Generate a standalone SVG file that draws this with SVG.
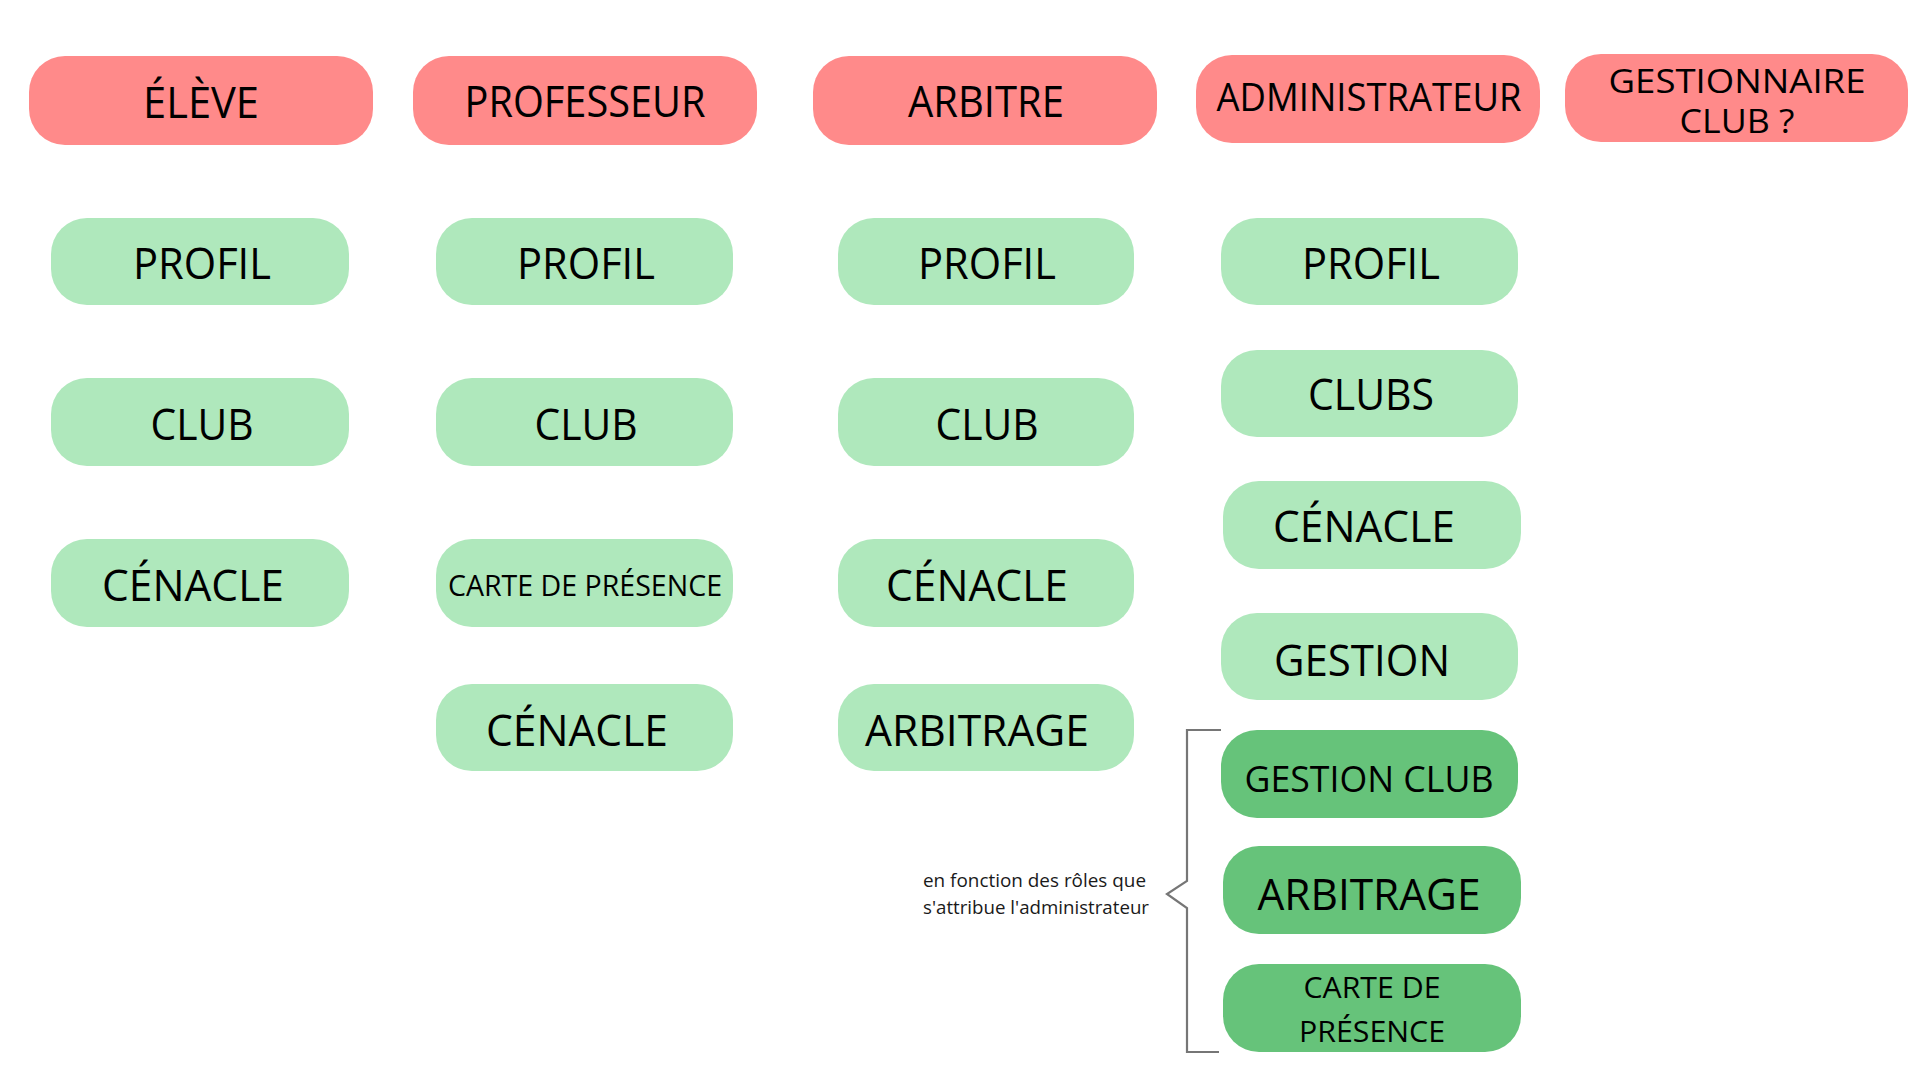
<svg xmlns="http://www.w3.org/2000/svg" width="1920" height="1080" viewBox="0 0 1920 1080">
<style>
.role{fill:#FF8A8A}
.feat{fill:#AFE8BC}
.dark{fill:#66C37A}
text{font-family:"Open Sans","Noto Sans","Liberation Sans",sans-serif;fill:#000;text-anchor:middle}
.t44{font-size:44px}
.t38{font-size:38px}
.t36{font-size:36px}
.t32{font-size:32px}
.t30{font-size:30px}
.note{font-size:18px;text-anchor:start;fill:#1a1a1a}
</style>
<rect width="1920" height="1080" fill="#fff"/>
<g id="role-eleve"><rect class="role" x="29" y="56" width="344" height="89" rx="36"/><text class="t44" x="201" y="118" textLength="116" lengthAdjust="spacingAndGlyphs">ÉLÈVE</text></g>
<g id="role-professeur"><rect class="role" x="413" y="56" width="344" height="89" rx="36"/><text class="t44" x="585" y="117" textLength="241" lengthAdjust="spacingAndGlyphs">PROFESSEUR</text></g>
<g id="role-arbitre"><rect class="role" x="813" y="56" width="344" height="89" rx="36"/><text class="t44" x="986" y="117" textLength="156" lengthAdjust="spacingAndGlyphs">ARBITRE</text></g>
<g id="role-admin"><rect class="role" x="1196" y="55" width="344" height="88" rx="36"/><text class="t38" x="1369" y="111" textLength="305" lengthAdjust="spacingAndGlyphs">ADMINISTRATEUR</text></g>
<g id="role-gestionnaire"><rect class="role" x="1565" y="54" width="343" height="88" rx="36"/><text class="t32" x="1737" y="93" textLength="257" lengthAdjust="spacingAndGlyphs">GESTIONNAIRE</text><text class="t32" x="1737" y="133" textLength="115" lengthAdjust="spacingAndGlyphs">CLUB ?</text></g>

<g id="eleve-profil"><rect class="feat" x="51" y="218" width="298" height="87" rx="36"/><text class="t44" x="202" y="279" textLength="138" lengthAdjust="spacingAndGlyphs">PROFIL</text></g>
<g id="eleve-club"><rect class="feat" x="51" y="378" width="298" height="88" rx="36"/><text class="t44" x="202" y="440" textLength="103" lengthAdjust="spacingAndGlyphs">CLUB</text></g>
<g id="eleve-cenacle"><rect class="feat" x="51" y="539" width="298" height="88" rx="36"/><text class="t44" x="193" y="601" textLength="182" lengthAdjust="spacingAndGlyphs">CÉNACLE</text></g>

<g id="prof-profil"><rect class="feat" x="436" y="218" width="297" height="87" rx="36"/><text class="t44" x="586" y="279" textLength="138" lengthAdjust="spacingAndGlyphs">PROFIL</text></g>
<g id="prof-club"><rect class="feat" x="436" y="378" width="297" height="88" rx="36"/><text class="t44" x="586" y="440" textLength="103" lengthAdjust="spacingAndGlyphs">CLUB</text></g>
<g id="prof-carte"><rect class="feat" x="436" y="539" width="297" height="88" rx="36"/><text class="t30" x="585" y="596" textLength="274" lengthAdjust="spacingAndGlyphs">CARTE DE PRÉSENCE</text></g>
<g id="prof-cenacle"><rect class="feat" x="436" y="684" width="297" height="87" rx="36"/><text class="t44" x="577" y="746" textLength="182" lengthAdjust="spacingAndGlyphs">CÉNACLE</text></g>

<g id="arb-profil"><rect class="feat" x="838" y="218" width="296" height="87" rx="36"/><text class="t44" x="987" y="279" textLength="138" lengthAdjust="spacingAndGlyphs">PROFIL</text></g>
<g id="arb-club"><rect class="feat" x="838" y="378" width="296" height="88" rx="36"/><text class="t44" x="987" y="440" textLength="103" lengthAdjust="spacingAndGlyphs">CLUB</text></g>
<g id="arb-cenacle"><rect class="feat" x="838" y="539" width="296" height="88" rx="36"/><text class="t44" x="977" y="601" textLength="182" lengthAdjust="spacingAndGlyphs">CÉNACLE</text></g>
<g id="arb-arbitrage"><rect class="feat" x="838" y="684" width="296" height="87" rx="36"/><text class="t44" x="977" y="746" textLength="224" lengthAdjust="spacingAndGlyphs">ARBITRAGE</text></g>

<g id="adm-profil"><rect class="feat" x="1221" y="218" width="297" height="87" rx="36"/><text class="t44" x="1371" y="279" textLength="138" lengthAdjust="spacingAndGlyphs">PROFIL</text></g>
<g id="adm-clubs"><rect class="feat" x="1221" y="350" width="297" height="87" rx="36"/><text class="t44" x="1371" y="410" textLength="126" lengthAdjust="spacingAndGlyphs">CLUBS</text></g>
<g id="adm-cenacle"><rect class="feat" x="1223" y="481" width="298" height="88" rx="36"/><text class="t44" x="1364" y="542" textLength="182" lengthAdjust="spacingAndGlyphs">CÉNACLE</text></g>
<g id="adm-gestion"><rect class="feat" x="1221" y="613" width="297" height="87" rx="36"/><text class="t44" x="1362" y="676" textLength="176" lengthAdjust="spacingAndGlyphs">GESTION</text></g>
<g id="adm-gestion-club"><rect class="dark" x="1221" y="730" width="297" height="88" rx="36"/><text class="t36" x="1369" y="792" textLength="249" lengthAdjust="spacingAndGlyphs">GESTION CLUB</text></g>
<g id="adm-arbitrage"><rect class="dark" x="1223" y="846" width="298" height="88" rx="36"/><text class="t44" x="1369" y="910" textLength="223" lengthAdjust="spacingAndGlyphs">ARBITRAGE</text></g>
<g id="adm-carte"><rect class="dark" x="1223" y="964" width="298" height="88" rx="36"/><text class="t30" x="1372" y="998" textLength="137" lengthAdjust="spacingAndGlyphs">CARTE DE</text><text class="t30" x="1372" y="1042" textLength="146" lengthAdjust="spacingAndGlyphs">PRÉSENCE</text></g>

<g id="connectors">
<path d="M1221 730 H1187 V881 L1167 894 L1187 908 V1052 H1219" fill="none" stroke="#767676" stroke-width="2.2"/>
</g>
<g id="note">
<text class="note" x="923" y="887" textLength="223" lengthAdjust="spacingAndGlyphs">en fonction des rôles que</text>
<text class="note" x="923" y="914" textLength="226" lengthAdjust="spacingAndGlyphs">s'attribue l'administrateur</text>
</g>
</svg>
